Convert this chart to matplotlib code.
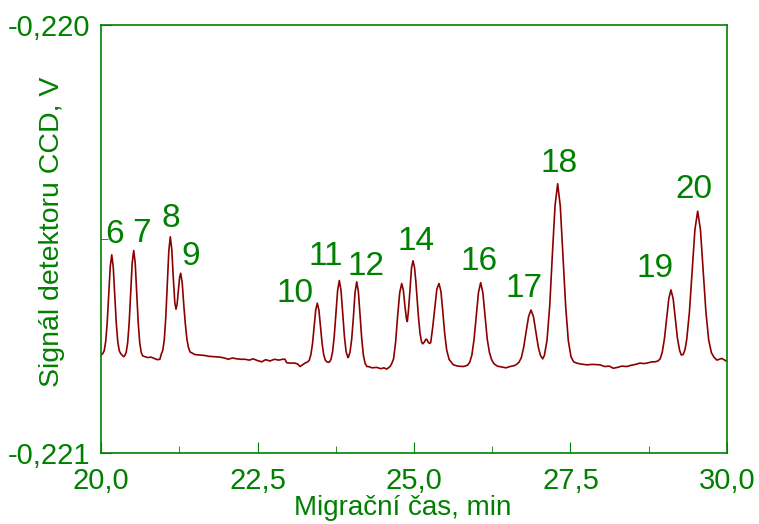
import matplotlib
matplotlib.use("Agg")
import matplotlib.pyplot as plt
from matplotlib.ticker import FixedLocator, FuncFormatter

plt.rcParams["font.family"] = ["Liberation Sans", "DejaVu Sans"]

# migration time (min) and CCD detector signal (V)
time_min = [
    20.000, 20.027, 20.051, 20.075, 20.099, 20.123, 20.147, 20.171, 20.195, 20.219,
    20.243, 20.267, 20.291, 20.315, 20.340, 20.360, 20.378, 20.402, 20.426, 20.450,
    20.474, 20.498, 20.522, 20.546, 20.570, 20.594, 20.618, 20.642, 20.666, 20.700,
    20.750, 20.800, 20.850, 20.900, 20.940, 20.963, 20.987, 21.011, 21.035, 21.059,
    21.083, 21.107, 21.131, 21.155, 21.179, 21.198, 21.215, 21.235, 21.255, 21.273,
    21.298, 21.323, 21.348, 21.373, 21.398, 21.423, 21.449, 21.500, 21.581, 21.650,
    21.720, 21.821, 21.900, 21.970, 22.034, 22.100, 22.170, 22.240, 22.300, 22.370,
    22.430, 22.500, 22.567, 22.630, 22.700, 22.770, 22.840, 22.900, 22.939, 22.966,
    23.030, 23.099, 23.140, 23.179, 23.220, 23.259, 23.302, 23.328, 23.353, 23.379,
    23.404, 23.430, 23.455, 23.481, 23.506, 23.532, 23.557, 23.583, 23.608, 23.631,
    23.645, 23.672, 23.699, 23.726, 23.753, 23.780, 23.807, 23.834, 23.861, 23.888,
    23.915, 23.942, 23.950, 23.977, 24.004, 24.031, 24.058, 24.085, 24.112, 24.139,
    24.166, 24.193, 24.220, 24.247, 24.270, 24.330, 24.404, 24.470, 24.520, 24.564,
    24.617, 24.641, 24.674, 24.707, 24.739, 24.772, 24.804, 24.830, 24.856, 24.878,
    24.893, 24.910, 24.936, 24.960, 24.984, 25.008, 25.030, 25.043, 25.070, 25.096,
    25.120, 25.139, 25.170, 25.185, 25.203, 25.230, 25.250, 25.267, 25.300, 25.335,
    25.365, 25.399, 25.430, 25.458, 25.490, 25.522, 25.560, 25.628, 25.700, 25.788,
    25.855, 25.890, 25.925, 25.960, 25.995, 26.030, 26.065, 26.100, 26.135, 26.170,
    26.205, 26.240, 26.275, 26.330, 26.400, 26.470, 26.534, 26.600, 26.638, 26.677,
    26.715, 26.754, 26.792, 26.831, 26.869, 26.908, 26.946, 26.985, 27.020, 27.056,
    27.083, 27.125, 27.168, 27.210, 27.253, 27.295, 27.337, 27.380, 27.423, 27.465,
    27.508, 27.550, 27.600, 27.660, 27.759, 27.850, 27.971, 28.050, 28.120, 28.184,
    28.250, 28.320, 28.398, 28.470, 28.540, 28.610, 28.680, 28.750, 28.800, 28.850,
    28.898, 28.933, 28.967, 29.002, 29.036, 29.071, 29.105, 29.140, 29.174, 29.209,
    29.243, 29.270, 29.300, 29.330, 29.356, 29.400, 29.444, 29.488, 29.532, 29.576,
    29.620, 29.664, 29.708, 29.752, 29.796, 29.840, 29.880, 29.915, 29.950, 30.000,
]
signal_v = [
    -0.220771, -0.220768, -0.220761, -0.220739, -0.220695, -0.220629, -0.220565, -0.220537, -0.220565, -0.220629,
    -0.220695, -0.220739, -0.220761, -0.220768, -0.220772, -0.220775, -0.220773, -0.220765, -0.220742, -0.220695,
    -0.220625, -0.220556, -0.220527, -0.220556, -0.220625, -0.220695, -0.220742, -0.220765, -0.220773, -0.220775,
    -0.220777, -0.220776, -0.220779, -0.220782, -0.220781, -0.220769, -0.220760, -0.220735, -0.220682, -0.220604,
    -0.220528, -0.220495, -0.220525, -0.220592, -0.220649, -0.220664, -0.220653, -0.220621, -0.220590, -0.220580,
    -0.220604, -0.220656, -0.220700, -0.220735, -0.220754, -0.220764, -0.220766, -0.220770, -0.220771, -0.220772,
    -0.220774, -0.220775, -0.220776, -0.220778, -0.220781, -0.220778, -0.220780, -0.220781, -0.220781, -0.220783,
    -0.220780, -0.220784, -0.220787, -0.220782, -0.220785, -0.220781, -0.220783, -0.220781, -0.220781, -0.220789,
    -0.220790, -0.220790, -0.220792, -0.220798, -0.220794, -0.220790, -0.220787, -0.220783, -0.220770, -0.220744,
    -0.220705, -0.220666, -0.220650, -0.220666, -0.220705, -0.220744, -0.220770, -0.220783, -0.220787, -0.220788,
    -0.220788, -0.220782, -0.220764, -0.220727, -0.220673, -0.220620, -0.220597, -0.220620, -0.220673, -0.220727,
    -0.220763, -0.220776, -0.220777, -0.220765, -0.220735, -0.220685, -0.220625, -0.220600, -0.220624, -0.220679,
    -0.220735, -0.220773, -0.220791, -0.220798, -0.220798, -0.220801, -0.220800, -0.220803, -0.220801, -0.220804,
    -0.220798, -0.220792, -0.220780, -0.220740, -0.220679, -0.220625, -0.220604, -0.220620, -0.220658, -0.220685,
    -0.220693, -0.220670, -0.220619, -0.220568, -0.220551, -0.220566, -0.220600, -0.220627, -0.220680, -0.220720,
    -0.220740, -0.220745, -0.220740, -0.220735, -0.220734, -0.220742, -0.220744, -0.220742, -0.220705, -0.220658,
    -0.220617, -0.220604, -0.220622, -0.220666, -0.220720, -0.220759, -0.220781, -0.220794, -0.220797, -0.220798,
    -0.220795, -0.220788, -0.220771, -0.220734, -0.220679, -0.220625, -0.220602, -0.220625, -0.220679, -0.220734,
    -0.220765, -0.220782, -0.220791, -0.220797, -0.220799, -0.220801, -0.220798, -0.220796, -0.220793, -0.220788,
    -0.220777, -0.220752, -0.220716, -0.220681, -0.220666, -0.220681, -0.220716, -0.220752, -0.220772, -0.220780,
    -0.220772, -0.220737, -0.220657, -0.220538, -0.220423, -0.220371, -0.220423, -0.220538, -0.220657, -0.220737,
    -0.220775, -0.220787, -0.220790, -0.220792, -0.220794, -0.220793, -0.220794, -0.220798, -0.220797, -0.220802,
    -0.220800, -0.220797, -0.220798, -0.220795, -0.220793, -0.220790, -0.220791, -0.220789, -0.220787, -0.220787,
    -0.220785, -0.220780, -0.220764, -0.220732, -0.220685, -0.220639, -0.220619, -0.220639, -0.220685, -0.220732,
    -0.220760, -0.220771, -0.220770, -0.220758, -0.220736, -0.220671, -0.220573, -0.220478, -0.220435, -0.220478,
    -0.220573, -0.220671, -0.220736, -0.220766, -0.220777, -0.220783, -0.220781, -0.220779, -0.220782, -0.220786,
]

# peak numbers and where their labels sit (time, signal at text baseline)
peak_labels = ["6", "7", "8", "9", "10", "11", "12", "14", "16", "17", "18", "19", "20"]
label_t = [20.216, 20.647, 21.118, 21.438, 23.091, 23.594, 24.241, 25.032,
           26.046, 26.765, 27.324, 28.850, 29.473]
label_v = [-0.220509, -0.220507, -0.220472, -0.220561, -0.220647, -0.220561,
           -0.220584, -0.220526, -0.220572, -0.220636, -0.220343, -0.220589,
           -0.220404]

x_major = [20.0, 22.5, 25.0, 27.5, 30.0]
x_minor = [21.25, 23.75, 26.25, 28.75]
y_major = [-0.221, -0.220]
y_minor = [-0.2205]

green = "#008000"
trace = "#8b0000"

fig = plt.figure(figsize=(7.59, 5.24), dpi=100)
ax = fig.add_axes([0.1331, 0.1355, 0.8247, 0.8168])

ax.plot(time_min, signal_v, color=trace, lw=1.2)

for txt, t, v in zip(peak_labels, label_t, label_v):
    ax.text(t, v, txt, color=green, fontsize=24, ha="center", va="baseline")

ax.set_xlim(20, 30)
ax.set_ylim(-0.221, -0.220)

ax.xaxis.set_major_locator(FixedLocator(x_major))
ax.xaxis.set_minor_locator(FixedLocator(x_minor))
ax.yaxis.set_major_locator(FixedLocator(y_major))
ax.yaxis.set_minor_locator(FixedLocator(y_minor))
ax.xaxis.set_major_formatter(FuncFormatter(lambda v, p: f"{v:.1f}".replace(".", ",")))
ax.yaxis.set_major_formatter(FuncFormatter(lambda v, p: f"{v:.3f}".replace(".", ",")))

ax.tick_params(which="both", direction="in", colors=green, labelsize=21,
               top=False, right=False)
ax.tick_params(axis="x", which="major", length=8, pad=10)
ax.tick_params(axis="x", which="minor", length=5)
ax.tick_params(axis="y", which="major", length=8, pad=8)
ax.tick_params(axis="y", which="minor", length=5)

for s in ax.spines.values():
    s.set_color(green)
    s.set_linewidth(1.2)

ax.set_xlabel("Migrační čas, min", color=green, fontsize=20, va="center")
ax.xaxis.set_label_coords(0.4824, -0.1285)
ax.set_ylabel("Signál detektoru CCD, V", color=green, fontsize=20.5, va="center")
ax.yaxis.set_label_coords(-0.0783, 0.516)

fig.savefig("out.png", dpi=100)
